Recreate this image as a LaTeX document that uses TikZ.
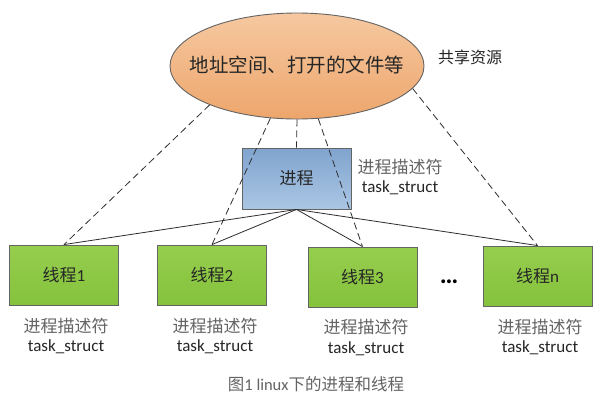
\documentclass[tikz,border=0pt]{standalone}
\usepackage{fontspec}
\setmainfont{Carlito}
\newfontfamily\cjk{Noto Sans CJK SC}
\usetikzlibrary{shapes.geometric,shadings}
\definecolor{edgegray}{RGB}{100,100,100}
\definecolor{linegray}{RGB}{45,45,45}
\definecolor{orangetop}{RGB}{246,200,160}
\definecolor{orangebot}{RGB}{237,166,108}
\definecolor{bluetop}{RGB}{128,164,206}
\definecolor{bluebot}{RGB}{170,198,228}
\definecolor{greentop}{RGB}{150,206,78}
\definecolor{greenbot}{RGB}{132,194,60}
\definecolor{labelgray}{RGB}{100,100,100}
\definecolor{darktext}{RGB}{38,38,38}
\begin{document}
\begin{tikzpicture}[x=1pt,y=-1pt,
  boxbase/.style={draw=edgegray, line width=0.9pt, rectangle, minimum width=109pt, minimum height=60pt, inner sep=0pt},
  threadbox/.style={boxbase, top color=greentop, bottom color=greenbot, font=\fontsize{17}{20}\selectfont, text=darktext},
  procbox/.style={boxbase, minimum height=61pt, top color=bluetop, bottom color=bluebot, font=\fontsize{17}{20}\selectfont, text=darktext},
  cjklbl/.style={font=\fontsize{17}{20}\selectfont\cjk, text=labelgray, inner sep=0pt},
  tslbl/.style={font=\fontsize{17}{20}\selectfont, text=darktext, inner sep=0pt},
  solidline/.style={draw=linegray, line width=0.8pt},
  dashline/.style={draw=linegray, line width=0.8pt, dash pattern=on 7pt off 4pt}
]
\useasboundingbox (0,0) rectangle (600,400);
\fill[white] (0,0) rectangle (600,400);

% shared resources ellipse
\node[ellipse, draw=edgegray, line width=0.9pt, top color=orangetop, bottom color=orangebot,
      minimum width=254pt, minimum height=106pt, inner sep=0pt] (ell) at (297,66) {};
\node[font=\fontsize{19.5}{22}\selectfont\cjk, text=darktext, inner sep=0pt] (elltext) at (297,65) {地址空间、打开的文件等};
\node[font=\fontsize{16}{19}\selectfont\cjk, text=darktext, inner sep=0pt] (share) at (470,57) {共享资源};

% process
\node[procbox] (proc) at (296.5,178.5) {\cjk 进程};
\node[cjklbl] (procl1) at (400,167) {进程描述符};
\node[tslbl] (procl2) at (400,188) {task\_struct};

% threads
\node[threadbox] (t1) at (64,275) {{\cjk 线程}1};
\node[threadbox] (t2) at (212,275) {{\cjk 线程}2};
\node[threadbox] (t3) at (362.5,277) {{\cjk 线程}3};
\node[threadbox] (tn) at (537.5,276) {{\cjk 线程}n};
\node[font=\fontsize{26}{28}\selectfont\bfseries, text=black, inner sep=0pt] (dots) at (449,282) {…};

% labels under threads
\node[cjklbl] (l1a) at (66,326) {进程描述符};
\node[tslbl] (l1b) at (66,347) {task\_struct};
\node[cjklbl] (l2a) at (215,326) {进程描述符};
\node[tslbl] (l2b) at (215,347) {task\_struct};
\node[cjklbl] (l3a) at (366,327) {进程描述符};
\node[tslbl] (l3b) at (366,349) {task\_struct};
\node[cjklbl] (lna) at (540,327) {进程描述符};
\node[tslbl] (lnb) at (540,348) {task\_struct};

% caption
\node[font=\fontsize{16.5}{19}\selectfont, text=labelgray, inner sep=0pt] (caption) at (316,384) {{\cjk 图}1 linux{\cjk 下的进程和线程}};

% solid connectors process -> threads
\draw[solidline] (proc.south) -- (t1.north);
\draw[solidline] (proc.south) -- (t2.north);
\draw[solidline] (proc.south) -- (t3.north);
\draw[solidline] (proc.south) -- (tn.north);

% dashed connectors shared resources -> tasks
\draw[dashline] (ell.204) -- (t1.north);
\draw[dashline] (ell.243) -- (t2.north);
\draw[dashline] (ell.270) -- (proc.north);
\draw[dashline] (ell.292) -- (t3.north);
\draw[dashline] (ell.349) -- (tn.north);
\end{tikzpicture}
\end{document}
